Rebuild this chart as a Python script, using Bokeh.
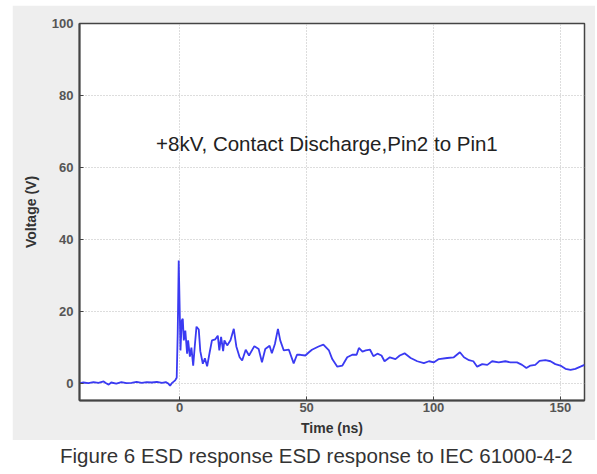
from bokeh.plotting import figure
from bokeh.models import FixedTicker, Label, Div, Range1d
from bokeh.layouts import column
from bokeh.embed import file_html
from bokeh.resources import INLINE

# ---- data ----
time_ns = [-40, -38, -36, -34, -32, -30, -29, -28, -27, -25, -23, -21, -19, -17, -15,
           -13, -11, -9, -7, -5.5, -4.5, -3.8, -3.0, -1.8, -1.2, -0.8, -0.4,
           0.0, 0.3, 0.8, 1.2, 1.6, 2.2, 2.9, 3.3, 4.0, 4.6, 5.3, 6.0, 6.6, 7.5, 8.1,
           9.1, 9.9, 10.8, 11.8, 12.7, 14.0, 15.0, 15.6, 16.3, 17.1, 17.6, 18.7, 20.0,
           21.3, 22.3, 23.6, 24.6, 26.0, 27.3, 29.4, 31.1, 32.4, 33.7, 35.4, 36.3,
           37.5, 38.7, 39.6, 41.0, 43.0, 44.9, 46.2, 47.5, 49.5, 50.9, 52.1, 54.7,
           56.6, 58.8, 60.1, 62.1, 64.1, 66.0, 68.0, 69.7, 70.6, 72.0, 73.3, 75.0,
           76.3, 77.9, 79.5, 80.7, 82.8, 85.0, 86.7, 88.6, 91.0, 93.6, 96.2, 98.2,
           100.2, 102.1, 105.4, 108.0, 110.4, 112.0, 114.0, 115.7, 117.2, 119.2,
           121.2, 123.1, 125.7, 128.3, 130.3, 132.9, 134.9, 136.6, 138.2, 140.1,
           141.8, 144.1, 146.1, 148.0, 150.0, 152.0, 154.0, 155.9, 157.9, 159.5]
voltage_v = [0.0, 0.3, 0.1, 0.4, 0.2, 0.6, 0.1, -0.3, 0.3, 0.0, 0.4, 0.1, 0.2, 0.5, 0.2,
             0.4, 0.3, 0.5, 0.2, 0.4, 0.0, -0.6, 0.2, 0.9, 1.6, 14.0, 34.2,
             20.0, 9.2, 17.5, 18.0, 12.0, 14.7, 8.3, 12.0, 7.5, 10.0, 5.0, 11.0, 15.8, 15.0, 9.0,
             5.5, 7.0, 4.8, 8.7, 12.0, 12.3, 13.3, 9.2, 13.0, 9.0, 12.0, 10.6, 12.0,
             15.2, 10.3, 7.3, 6.4, 9.4, 7.8, 10.4, 9.6, 5.9, 9.6, 10.5, 8.4,
             11.0, 15.2, 12.0, 9.2, 9.4, 5.6, 8.0, 8.0, 7.8, 8.7, 9.4, 10.3,
             10.8, 9.2, 6.8, 4.7, 5.0, 7.3, 8.0, 8.0, 9.9, 8.9, 9.2, 9.4,
             7.6, 8.3, 7.8, 6.2, 7.3, 6.8, 7.8, 8.4, 7.1, 6.2, 5.7, 6.2,
             5.9, 6.8, 7.1, 7.3, 8.7, 7.3, 6.5, 6.2, 4.7, 5.4,
             5.2, 6.2, 5.9, 6.2, 5.9, 5.9, 5.2, 4.3, 5.0, 5.2,
             6.3, 6.5, 6.2, 5.4, 5.0, 4.1, 3.8, 4.1, 4.7, 5.2]
x_ticks = [0, 50, 100, 150]
y_ticks = [0, 20, 40, 60, 80, 100]
annotation = "+8kV, Contact Discharge,Pin2 to Pin1"
caption = "Figure 6 ESD response ESD response to IEC 61000-4-2"

p = figure(width=583, height=435, output_backend="svg", toolbar_location=None,
           x_range=Range1d(-39.5, 159.5), y_range=Range1d(-4.7, 100),
           min_border_left=67, min_border_right=11, min_border_top=18, min_border_bottom=40,
           background_fill_color="white", border_fill_color="#eeeeee")
p.margin = (5, 0, 0, 12)

p.line(time_ns, voltage_v, line_color="#3a3af2", line_width=1.8)

p.xaxis.ticker = FixedTicker(ticks=x_ticks)
p.yaxis.ticker = FixedTicker(ticks=y_ticks)
for ax in (p.xaxis[0], p.yaxis[0]):
    ax.major_tick_in = 4
    ax.major_tick_out = 0
    ax.minor_tick_line_color = None
    ax.major_tick_line_color = "#444444"
    ax.axis_line_color = "#444444"
    ax.axis_line_width = 2
    ax.major_label_text_font = "Liberation Sans"
    ax.major_label_text_font_style = "bold"
    ax.major_label_text_font_size = "13px"
    ax.major_label_text_color = "#555555"
    ax.axis_label_text_font = "Liberation Sans"
    ax.axis_label_text_font_style = "bold"
    ax.axis_label_text_font_size = "14px"
    ax.axis_label_text_color = "#333333"
p.xaxis.axis_label = "Time (ns)"
p.yaxis.axis_label = "Voltage (V)"
p.xaxis.major_label_standoff = 2
p.xaxis.axis_label_standoff = 5
p.yaxis.major_label_standoff = 6
p.yaxis.axis_label_standoff = 10

p.outline_line_color = "#444444"
p.outline_line_width = 1.5
p.grid.grid_line_color = "#bbbbbb"
p.grid.grid_line_dash = "1 2"
p.grid.grid_line_width = 1

p.add_layout(Label(x=58, y=66.7, text=annotation, text_align="center", text_baseline="middle",
                   text_font="Liberation Sans", text_font_size="20.5px", text_color="#222222"))

div = Div(text=caption, width=597, height=28,
          styles={"font-family": "Liberation Sans", "font-size": "20.5px", "color": "#333333",
                  "padding-left": "55px", "padding-top": "0px", "line-height": "22px",
                  "white-space": "nowrap"})

layout = column(p, div, spacing=0)
open("out.html", "w").write(file_html(layout, INLINE))
